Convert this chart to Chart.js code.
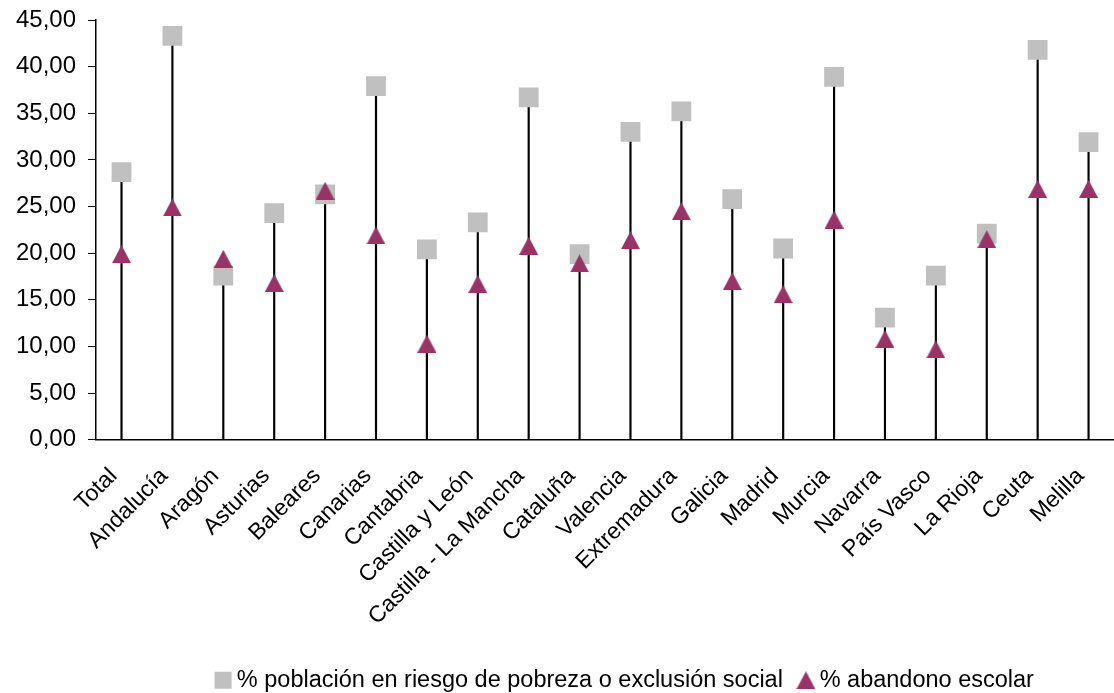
<!DOCTYPE html>
<html>
<head>
<meta charset="utf-8">
<script src="https://cdn.jsdelivr.net/npm/chart.js@4"></script>
<style>
  html, body { margin: 0; padding: 0; background: #fff; overflow: hidden; }
  #wrap { width: 1114px; height: 693px; overflow: hidden; }
  canvas { display: block; }
</style>
</head>
<body>
<div id="wrap"><canvas id="myChart"></canvas></div>
<script>
// data
var regiones = ["Total", "Andalucía", "Aragón", "Asturias", "Baleares", "Canarias", "Cantabria",
  "Castilla y León", "Castilla - La Mancha", "Cataluña", "Valencia", "Extremadura", "Galicia",
  "Madrid", "Murcia", "Navarra", "País Vasco", "La Rioja", "Ceuta", "Melilla"];
var pobreza = [28.7, 43.3, 17.6, 24.3, 26.3, 37.9, 20.4, 23.3, 36.7, 19.9, 33.0, 35.2, 25.8,
  20.5, 38.9, 13.1, 17.6, 22.1, 41.8, 31.9];
var abandono = [19.9, 24.9, 19.4, 16.8, 26.7, 21.9, 10.3, 16.7, 20.8, 18.9, 21.4, 24.5, 17.0,
  15.6, 23.6, 10.8, 9.7, 21.5, 26.9, 26.9];
var yTicks = [0, 5, 10, 15, 20, 25, 30, 35, 40, 45];

// stems go from 0 up to the higher of the two markers
var stems = pobreza.map((p, i) => [0, Math.max(p, abandono[i])]);

// triangle marker centred on its box (like Excel)
var tri = document.createElement("canvas");
tri.width = 19; tri.height = 18;
var tctx = tri.getContext("2d");
tctx.fillStyle = "#993366";
tctx.beginPath();
tctx.moveTo(9.5, 0);
tctx.lineTo(19, 18);
tctx.lineTo(0, 18);
tctx.closePath();
tctx.fill();

var font = "'Liberation Sans', Arial, sans-serif";
Chart.defaults.font.family = font;
Chart.defaults.color = "#000";

// legend in the original sits right of centre and near the bottom edge
var shiftLegend = {
  id: "shiftLegend",
  afterLayout(chart) {
    var l = chart.legend;
    l.left += 66; l.right += 66;
    l.top += 11; l.bottom += 11;
  }
};

var ctx = document.getElementById("myChart").getContext("2d");
var chart = new Chart(ctx, {
  type: "bar",
  data: {
    labels: regiones,
    datasets: [
      {
        label: "stems",
        data: stems,
        backgroundColor: "#000",
        barThickness: 1.5,
        order: 3
      },
      {
        type: "line",
        label: "% población en riesgo de pobreza o exclusión social",
        data: pobreza,
        showLine: false,
        pointStyle: "rect",
        pointRadius: 14,
        pointHoverRadius: 14,
        pointBackgroundColor: "#C0C0C0",
        pointBorderColor: "#C0C0C0",
        backgroundColor: "#C0C0C0",
        borderColor: "#C0C0C0",
        pointBorderWidth: 0,
        order: 2
      },
      {
        type: "line",
        label: "% abandono escolar",
        data: abandono,
        showLine: false,
        pointStyle: tri,
        pointRadius: 10,
        backgroundColor: "#993366",
        borderColor: "#993366",
        order: 1
      }
    ]
  },
  options: {
    responsive: true,
    maintainAspectRatio: false,
    animation: false,
    layout: { autoPadding: false, padding: { left: 4, top: 0, right: -5, bottom: 2 } },
    plugins: {
      tooltip: { enabled: false },
      legend: {
        position: "bottom",
        labels: {
          usePointStyle: true,
          boxHeight: 17,
          boxWidth: 4,
          padding: 21,
          font: { size: 23.5 },
          filter: (item) => item.datasetIndex !== 0,
          sort: (a, b) => a.datasetIndex - b.datasetIndex
        }
      }
    },
    scales: {
      x: {
        grid: { display: false },
        border: { color: "#000", width: 1.5 },
        ticks: {
          maxRotation: 45,
          minRotation: 45,
          autoSkip: false,
          padding: 15,
          labelOffset: -8,
          font: { size: 23 }
        },
        afterFit: (axis) => { axis.height -= 9; axis.paddingRight = 0; }
      },
      y: {
        min: 0,
        max: 45,
        afterBuildTicks: (axis) => { axis.ticks = yTicks.map(v => ({ value: v })); },
        grid: { drawOnChartArea: false, color: "#000", tickLength: 8 },
        border: { color: "#000", width: 1.5 },
        ticks: {
          padding: 12,
          font: { size: 24 },
          callback: (v) => v.toFixed(2).replace(".", ",")
        },
        afterFit: (axis) => { axis.paddingTop = 20; }
      }
    }
  },
  plugins: [shiftLegend]
});
</script>
</body>
</html>
